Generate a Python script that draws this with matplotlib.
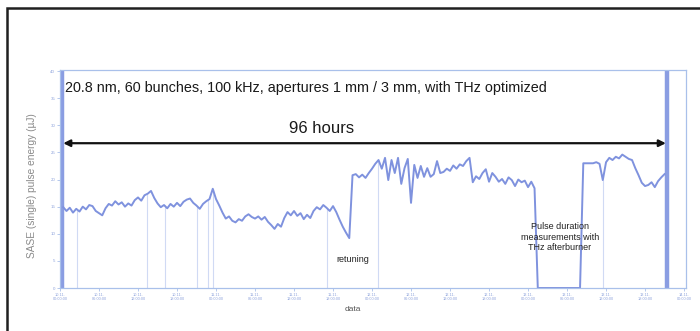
import numpy as np
import matplotlib
matplotlib.use("Agg")
import matplotlib.pyplot as plt
from matplotlib.patches import Rectangle

plt.rcParams['font.family'] = ['Liberation Sans', 'DejaVu Sans']

# SASE single pulse energy (uJ), sampled every 0.5 h from 0.5 h to 93 h
hours = np.arange(0.5, 93.01, 0.5)
energy = [
    14.9, 14.2, 14.8, 13.9, 14.6, 14.1, 15.0, 14.5, 15.3, 15.1,
    14.2, 13.8, 13.4, 14.7, 15.5, 15.2, 16.0, 15.4, 15.8, 15.0,
    15.6, 15.2, 16.2, 16.7, 16.1, 17.1, 17.4, 17.9, 16.6, 15.6,
    14.9, 15.3, 14.7, 15.5, 15.0, 15.7, 15.1, 15.9, 16.3, 16.5,
    15.7, 15.2, 14.6, 15.5, 16.0, 16.4, 18.3, 16.4, 15.2, 13.9,
    12.8, 13.2, 12.4, 12.1, 12.7, 12.4, 13.2, 13.6, 13.1, 12.8,
    13.2, 12.6, 13.1, 12.2, 11.6, 10.9, 11.8, 11.3, 12.9, 14.0,
    13.4, 14.2, 13.3, 13.8, 12.7, 13.5, 12.9, 14.2, 14.9, 14.5,
    15.3, 14.8, 14.2, 15.1, 14.0, 12.6, 11.3, 10.2, 9.2, 20.8,
    21.0, 20.4, 20.9, 20.3, 21.2, 22.0, 22.9, 23.6, 22.0, 24.0,
    19.9, 23.6, 21.2, 24.0, 19.2, 22.1, 23.8, 15.7, 22.7, 20.3,
    22.5, 20.5, 22.1, 20.5, 21.0, 23.4, 21.2, 21.4, 22.0, 21.6,
    22.6, 22.0, 22.8, 22.5, 23.4, 24.0, 19.5, 20.6, 20.1, 21.2,
    21.9, 19.6, 21.2, 20.5, 19.6, 20.1, 19.2, 20.4, 19.9, 18.8,
    20.0, 19.5, 19.8, 18.6, 19.6, 18.4, 0.0, 0.0, 0.0, 0.0,
    0.0, 0.0, 0.0, 0.0, 0.0, 0.0, 0.0, 0.0, 0.0, 0.0,
    23.0, 23.0, 23.0, 23.0, 23.2, 22.9, 19.9, 23.2, 24.0, 23.6,
    24.2, 23.9, 24.6, 24.2, 23.8, 23.6, 22.1, 20.8, 19.4, 18.8,
    19.0, 19.5, 18.6, 19.7, 20.4, 21.0,
]

# short beam dropouts (faint vertical lines) and the two saturated spikes
dropout_h = [2.6, 13.4, 16.2, 21.1, 22.8, 23.5, 41.1, 48.9, 83.5]
spike_h = [0.3, 93.4]
y_max = 40

# tick labels
y_ticks = [0, 5, 10, 15, 20, 25, 30, 35, 40]
x_ticks = list(range(0, 97, 6))
x_tick_labels = ["%02d.11.\n%02d:00:00" % (10 + (h // 24), h % 24) for h in x_ticks]

title = "20.8 nm, 60 bunches, 100 kHz, apertures 1 mm / 3 mm, with THz optimized"

line_col = "#7f92de"
axis_col = "#a9c0ea"

fig = plt.figure(figsize=(7.0, 3.31), dpi=100)
fig.patch.set_facecolor("white")
fig.add_artist(Rectangle((7 / 700, -0.02), 1.02, 1 - 8 / 331 + 0.02,
                         transform=fig.transFigure, fill=False,
                         edgecolor="#202020", linewidth=1.8))

ax = fig.add_axes([60 / 700, 1 - 288 / 331, 626 / 700, 218 / 331])

energy_at = dict(zip(np.round(hours, 1), energy))
for h in dropout_h:
    v = energy_at.get(round(round(h * 2) / 2, 1), 15)
    ax.vlines(h, 0, v, color="#d0daf4", lw=0.8)
ax.vlines(spike_h, 0, y_max, color="#8a9de2", lw=3.2)
ax.plot(hours, energy, color=line_col, lw=1.4)

ax.set_xlim(0, 96.3)
ax.set_ylim(0, 40.2)
ax.set_xticks(x_ticks)
ax.set_xticklabels(x_tick_labels, fontsize=2.8, color="#8fa4dc")
ax.set_yticks(y_ticks)
ax.set_yticklabels([str(t) for t in y_ticks], fontsize=3.2, color="#8fa4dc")
ax.tick_params(length=2, width=0.6, color=axis_col, pad=1.5)
for s in ax.spines.values():
    s.set_color(axis_col)
    s.set_linewidth(0.9)

ax.set_xlabel("data", fontsize=6, color="#555555")
ax.xaxis.set_label_coords(0.468, -0.083)
ax.set_ylabel("SASE (single) pulse energy (\u00b5J)", fontsize=7.3, color="#8a8a8a")
ax.yaxis.set_label_coords(-0.036, 0.47)

ax.text(0.008, 0.917, title, transform=ax.transAxes, fontsize=10.4,
        color="#1a1a1a", ha="left", va="center")
ax.annotate("", xy=(0.5, 26.7), xytext=(93.2, 26.7),
            arrowprops=dict(arrowstyle="<|-|>", color="#111111", lw=1.6,
                            mutation_scale=10, shrinkA=0, shrinkB=0))
ax.text(40.3, 29.5, "96 hours", fontsize=12, color="#1a1a1a",
        ha="center", va="center")
ax.text(45.1, 5.2, "retuning", fontsize=6.5, color="#222222",
        ha="center", va="center")
ax.text(76.9, 9.4, "Pulse duration\nmeasurements with\nTHz afterburner",
        fontsize=6.5, color="#222222", ha="center", va="center",
        linespacing=1.25)

fig.savefig("out.png", dpi=100, facecolor="white")
